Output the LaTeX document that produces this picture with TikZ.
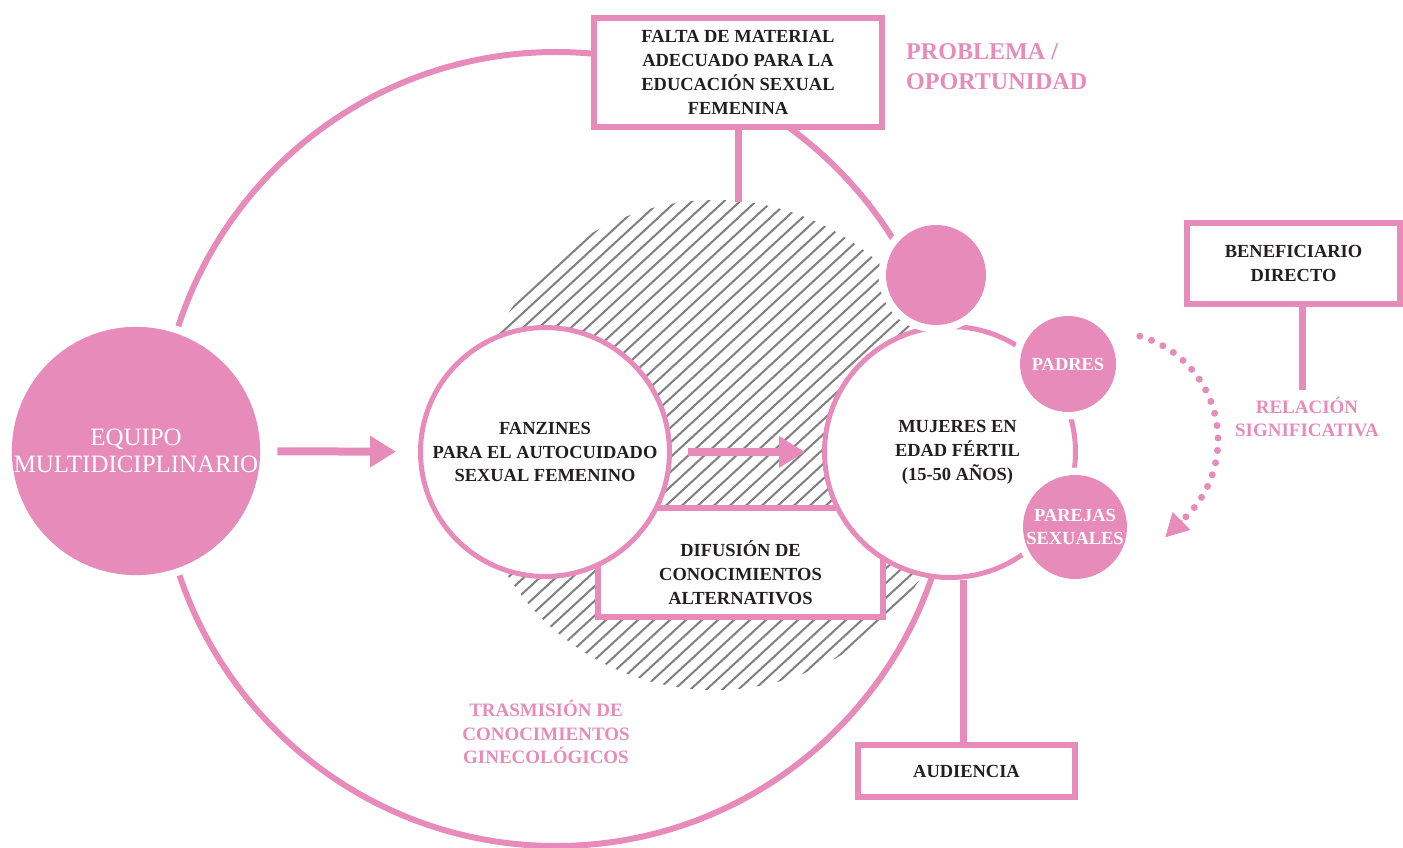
\documentclass[tikz,border=0pt]{standalone}
\usepackage{fontspec}
\setmainfont{Liberation Serif}
\usetikzlibrary{arrows.meta, positioning, calc}
\definecolor{rosa}{HTML}{E68BBA}
\definecolor{tinta}{HTML}{231F20}
\definecolor{rayado}{HTML}{808080}

\begin{document}
\begin{tikzpicture}[x=0.02cm, y=-0.02cm, >=Stealth,
        txt/.style={font=\fontsize{10.5}{13.6}\selectfont\bfseries, text=tinta, align=center},
        bubble/.style={circle, draw=rosa, fill=white, line width=0.1cm, inner sep=0pt, txt},
        blob/.style={circle, fill=rosa, preaction={draw=white, line width=0.3cm}, inner sep=0pt, txt, text=white},
        marco/.style={rectangle, draw=rosa, fill=white, line width=0.12cm, inner sep=0pt, txt},
        rotulo/.style={text=rosa, font=\fontsize{10.8}{13.6}\selectfont\bfseries, align=center},
        tallo/.style={draw=rosa, line width=0.14cm},
        flecha/.style={draw=rosa, line width=0.16cm, -{Triangle[length=0.52cm, width=0.6cm]}},
        puntos/.style={draw=rosa, line width=0.14cm, line cap=round, dash pattern=on 0pt off 0.25cm},
        punta/.style={draw=rosa, fill=rosa, line width=0.02cm, -{Triangle[length=0.46cm, width=0.5cm]}},
        rayas/.style={draw=rayado, line width=0.04cm}]
        \useasboundingbox (0,0) rectangle (1403,848);

        % Hatched area
        \begin{scope}
            \clip (715,445) circle (245);
            \foreach \k in {0,...,74}
                \draw[rayas] (\k*16-250,760) -- ++(640,-590);
        \end{scope}

        % Outer ring
        \draw[rosa, line width=0.12cm] (556,449) circle (397);

        % Nodes
        \node[marco, minimum width=5.7cm, minimum height=2.18cm] (difusion) at (740.5,562.5) {\\[0.25cm]DIFUSIÓN DE\\CONOCIMIENTOS\\ALTERNATIVOS};
        \node[bubble, minimum size=4.98cm] (fanzines) at (545,452) {FANZINES\\PARA EL AUTOCUIDADO\\SEXUAL FEMENINO};
        \node[bubble, minimum size=5.02cm] (mujeres) at (950,452) {\hspace*{0.3cm}MUJERES EN\\\hspace*{0.3cm}EDAD FÉRTIL\\\hspace*{0.3cm}(15-50 AÑOS)};
        \node[blob, minimum size=2cm] (cima) at (936,275) {};
        \node[blob, minimum size=1.92cm] (padres) at (1068,364) {PADRES};
        \node[blob, minimum size=2.08cm] (parejas) at (1075,527) {PAREJAS\\SEXUALES};
        \node[blob, minimum size=4.96cm, font=\fontsize{14.2}{15.5}\selectfont] (equipo) at (136,451) {EQUIPO\\MULTIDICIPLINARIO};
        \node[marco, minimum width=5.76cm, minimum height=2.18cm] (falta) at (738,72.5) {FALTA DE MATERIAL\\ADECUADO PARA LA\\EDUCACIÓN SEXUAL\\FEMENINA};
        \node[marco, minimum width=4.26cm, minimum height=1.62cm] (beneficiario) at (1293.5,263.5) {BENEFICIARIO\\DIRECTO};
        \node[marco, minimum width=4.34cm, minimum height=1.04cm] (audiencia) at (966.5,771) {AUDIENCIA};

        % Labels
        \node[rotulo, font=\fontsize{13.7}{17}\selectfont\bfseries, align=left, anchor=west] (problema) at (900,67) {PROBLEMA /\\OPORTUNIDAD};
        \node[rotulo] (relacion) at (1307,417) {RELACIÓN\\SIGNIFICATIVA};
        \node[rotulo] (trasmision) at (546,732) {TRASMISIÓN DE\\CONOCIMIENTOS\\GINECOLÓGICOS};

        % Connections
        \coordinate (borde) at (738,202);
        \coordinate (pie) at (1302,390);
        \coordinate (eje) at (963,0);
        \coordinate (giro) at (1110,440);
        \coordinate (fin) at ($(giro)+(48:108)$);
        \draw[tallo] (falta.south) -- (borde);
        \draw[tallo] (pie |- beneficiario.south) -- (pie);
        \draw[tallo] (eje |- mujeres.south) -- (eje |- audiencia.north);
        \draw[flecha, shorten <=0.34cm, shorten >=0.44cm] (equipo) -- (fanzines);
        \draw[flecha, shorten <=0.32cm, shorten >=0.34cm] (fanzines) -- (mujeres);
        \draw[puntos] ($(giro)+(-74:108)$) arc[start angle=-74, end angle=46, radius=108];
        \draw[punta] (fin) -- ++(-17,17);
    \end{tikzpicture}
\end{document}
